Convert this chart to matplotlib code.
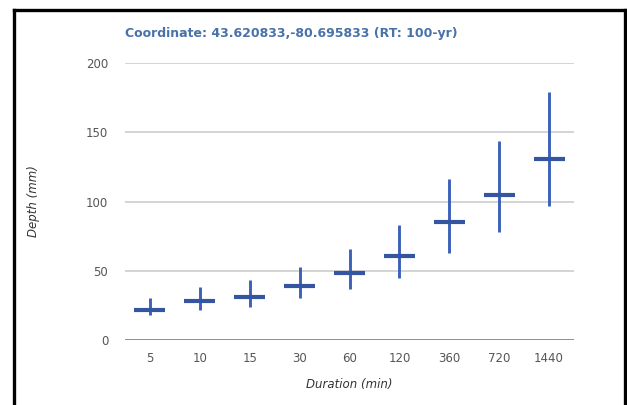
import matplotlib
matplotlib.use("Agg")
import matplotlib.pyplot as plt
from matplotlib.lines import Line2D
import numpy as np

durations = ['5', '10', '15', '30', '60', '120', '360', '720', '1440']
depth_mid = [22, 28, 31, 39, 48.5, 60.5, 85, 105, 130.5]
depth_upper = [30, 38, 43, 53, 66, 83, 116, 144, 179]
depth_lower = [18, 22, 24, 30, 37, 45, 63, 78, 97]
y_ticks = [0, 50, 100, 150, 200]

W, H = 627, 405
fig = plt.figure(figsize=(W / 100, H / 100), dpi=100)
fig.patch.set_facecolor('white')

ax = fig.add_axes([125 / W, (H - 340) / H, (574 - 125) / W, (340 - 63) / H])
x = np.arange(len(durations))

ax.set_ylim(0, 200)
ax.set_xlim(-0.5, len(durations) - 0.5)
for s in ax.spines.values():
    s.set_visible(False)
for t in y_ticks[1:]:
    ax.axhline(t, color='#d4d4d4', lw=1.4, zorder=0)
ax.axhline(0, color='#6e6e6e', lw=1.8, zorder=1)

ax.vlines(x, depth_lower, depth_upper, color='#3c62b8', lw=2.1, zorder=3)
hw = 0.31
ax.hlines(depth_mid, x - hw, x + hw, color='#34559f', lw=3.0, zorder=4)

ax.set_yticks(y_ticks)
ax.set_yticklabels([str(v) for v in y_ticks])
ax.set_xticks(x)
ax.set_xticklabels(durations)
ax.tick_params(length=0, labelsize=8.5, colors='#555555')
ax.tick_params(axis='y', pad=12)
ax.tick_params(axis='x', pad=9)

ax.set_xlabel('Duration (min)', fontsize=8.5, style='italic', color='#333333', labelpad=9)
ax.set_ylabel('Depth (mm)', fontsize=8.5, style='italic', color='#333333', labelpad=33)

fig.text(125 / W, (H - 34) / H, 'Coordinate: 43.620833,-80.695833 (RT: 100-yr)',
         fontsize=9, fontweight='bold', color='#4872a8', ha='left', va='center')

# outer frame (left, top, right)
def fl(xs, ys):
    fig.add_artist(Line2D([v / W for v in xs], [(H - v) / H for v in ys],
                          color='black', lw=2.4, transform=fig.transFigure))
fl([13.5, 13.5], [10, H + 5])
fl([13.5, 624.5], [10, 10])
fl([624.5, 624.5], [10, H + 5])

fig.savefig('out.png', dpi=100)
